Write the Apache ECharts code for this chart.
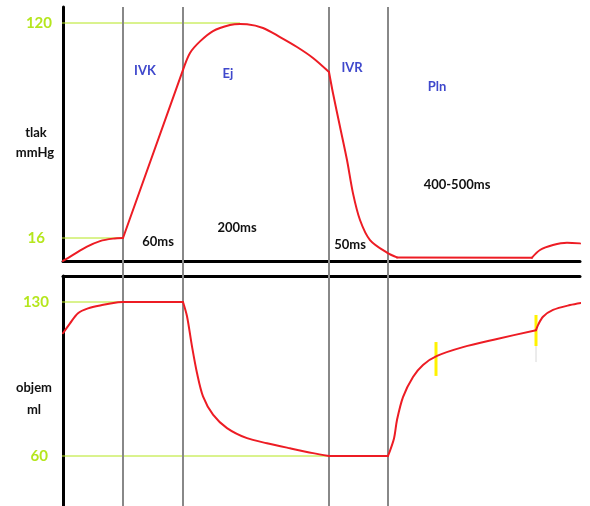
<!DOCTYPE html>
<html>
<head>
<meta charset="utf-8">
<script src="https://cdn.jsdelivr.net/npm/echarts@6/dist/echarts.min.js"></script>
<style>html,body{margin:0;padding:0;background:#fff}#c{width:590px;height:506px}</style>
</head>
<body>
<div id="c"></div>
<script>
// schematic time axis (arbitrary units), phase boundaries
const phaseBounds = [60, 120, 266, 325];
// pressure (mmHg) curve
const pressureT = [0, 10, 24, 37, 50, 60, 120, 127, 137, 150, 167, 177, 184, 200, 217, 234, 250, 266, 270, 277, 284, 290, 297, 307, 324, 334, 469, 477, 490, 504, 517];
const pressureV = [4.9, 7.8, 11.8, 14.5, 15.7, 16, 97.3, 105.5, 111.1, 116.1, 119, 119.5, 119.4, 117.6, 113.2, 108.4, 103.1, 96.3, 86, 69.8, 53.7, 37.6, 24.7, 15, 8.9, 6.6, 6.5, 10.2, 12.6, 13.7, 13.4];
// volume (ml) curve
const volumeT = [0, 7, 15, 25, 39, 55, 60, 120, 124, 129, 134, 140, 150, 164, 184, 204, 227, 250, 266, 325, 331, 334, 340, 350, 360, 374, 400, 434, 473, 475, 480, 490, 507, 520];
const volumeV = [115.8, 120.3, 124.9, 127.1, 128.6, 129.9, 130, 130, 123.5, 109.8, 97.7, 87.1, 78.8, 72.7, 68.1, 65.8, 63.5, 61.3, 60, 60, 68, 76.4, 86.8, 95.9, 101.4, 105.5, 109.5, 113.2, 117.2, 119.5, 123.3, 126.4, 128.6, 129.7];
// tick labels / reference levels
const pressureTicks = [120, 16];
const volumeTicks = [130, 60];
const pressureRefSpan = [[-6, 177], [-12, 60]];
const volumeRefSpan = [[-6, 60], [-8, 266]];
// yellow markers on volume curve
const markerT = [373, 473];
const markerV = [[111.8, 96.4], [124.1, 110]];
const markerGreyV = [110, 102.7];
// phase texts
const phaseNames = ['IVK', 'Ej', 'IVR', 'Pln'];
const durationTexts = ['60ms', '200ms', '50ms', '400-500ms'];
// indices where the curves have corners (segment breaks)
const pressureBreaks = [0, 5, 6, 17, 25, 26, 30];
const volumeBreaks = [0, 6, 7, 18, 19, 28, 33];

const RED = '#ed1c24', LIME = '#b5e61d', GRAY = '#888888', BLUE = '#3f48cc', YEL = '#fff200';
const FONT = 'Lato';
const labelPad = {120: 0, 16: 7, 130: 3, 60: 4};

const chart = echarts.init(document.getElementById('c'), null, {renderer: 'canvas'});

const pMin = 16 - 23 / (215 / 104), pMax = 120 + 16 / (215 / 104);
const vMin = 60 - 50 / 2.2, vMax = 130 + 26 / 2.2;

function richStyle(p) {
  return {color: LIME, fontFamily: FONT, fontWeight: 'bold', fontSize: 15, padding: [0, p, 0, 0]};
}
function yAx(idx, min, max, ticks) {
  return {
    type: 'value', gridIndex: idx, min: min, max: max,
    axisLine: {show: true, onZero: false, lineStyle: {color: '#000', width: 3}},
    axisTick: {show: false},
    splitLine: {show: false},
    axisLabel: {
      show: true, customValues: ticks, margin: 11,
      formatter: v => '{p' + labelPad[v] + '|' + v + '}',
      rich: {p0: richStyle(0), p7: richStyle(7), p3: richStyle(3), p4: richStyle(4)}
    }
  };
}
function xAx(idx, pos, show) {
  return {
    type: 'value', gridIndex: idx, min: 0, max: 517, position: pos,
    axisLine: {show: show, onZero: false, lineStyle: {color: '#000', width: 3}},
    axisTick: {show: false}, axisLabel: {show: false}, splitLine: {show: false}
  };
}
function zip(a, b) { return a.map((t, i) => [t, b[i]]); }

const series = [];
// phase boundary lines (full height)
series.push({
  type: 'line', xAxisIndex: 2, yAxisIndex: 2, data: [], z: 1, silent: true,
  markLine: {
    symbol: 'none', silent: true, animation: false, label: {show: false},
    lineStyle: {color: GRAY, width: 2, type: 'solid'},
    data: phaseBounds.map(b => ({xAxis: b}))
  }
});
// reference lines
pressureTicks.forEach((v, i) => series.push({
  type: 'line', xAxisIndex: 0, yAxisIndex: 0, clip: false, symbol: 'none', z: 2, animation: false,
  lineStyle: {color: LIME, width: 1}, data: [[pressureRefSpan[i][0], v], [pressureRefSpan[i][1], v]]
}));
volumeTicks.forEach((v, i) => series.push({
  type: 'line', xAxisIndex: 1, yAxisIndex: 1, clip: false, symbol: 'none', z: 2, animation: false,
  lineStyle: {color: LIME, width: 1}, data: [[volumeRefSpan[i][0], v], [volumeRefSpan[i][1], v]]
}));
// curves, split at corners
function addCurve(ts, vs, breaks, axis) {
  const pts = zip(ts, vs);
  for (let k = 0; k < breaks.length - 1; k++) {
    const seg = pts.slice(breaks[k], breaks[k + 1] + 1);
    series.push({
      type: 'line', xAxisIndex: axis, yAxisIndex: axis, clip: false, symbol: 'none',
      smooth: seg.length > 2 ? 0.3 : false, z: 5, animation: false,
      lineStyle: {color: RED, width: 2, cap: 'round', join: 'round'}, data: seg
    });
  }
}
addCurve(pressureT, pressureV, pressureBreaks, 0);
addCurve(volumeT, volumeV, volumeBreaks, 1);
// yellow markers
series.push({
  type: 'line', xAxisIndex: 1, yAxisIndex: 1, clip: false, symbol: 'none', z: 3, animation: false,
  lineStyle: {color: '#d8d8d8', width: 1}, data: [[markerT[1], markerGreyV[0]], [markerT[1], markerGreyV[1]]]
});
markerT.forEach((t, i) => series.push({
  type: 'line', xAxisIndex: 1, yAxisIndex: 1, clip: false, symbol: 'none', z: 4, animation: false,
  lineStyle: {color: YEL, width: 3}, data: [[t, markerV[i][0]], [t, markerV[i][1]]]
}));

function txt(x, y, s, color) {
  return {type: 'text', x: x, y: y, style: {text: s, fill: color, font: 'bold 13px ' + FONT, textAlign: 'center', textVerticalAlign: 'middle'}, z: 10};
}

chart.setOption({
  animation: false,
  backgroundColor: '#fff',
  grid: [
    {left: 63, top: 7, width: 517, height: 254},
    {left: 63, top: 276, width: 517, height: 230},
    {left: 63, top: 7, width: 517, height: 499}
  ],
  xAxis: [xAx(0, 'bottom', true), xAx(1, 'top', true), xAx(2, 'bottom', false)],
  yAxis: [yAx(0, pMin, pMax, pressureTicks), yAx(1, vMin, vMax, volumeTicks),
    {type: 'value', gridIndex: 2, min: 0, max: 1, show: false}],
  series: series,
  graphic: [
    txt(145, 71, phaseNames[0], BLUE),
    txt(228, 74, phaseNames[1], BLUE),
    txt(352, 68, phaseNames[2], BLUE),
    txt(437, 87, phaseNames[3], BLUE),
    txt(158, 242, durationTexts[0], '#111'),
    txt(237, 228, durationTexts[1], '#111'),
    txt(350, 245, durationTexts[2], '#111'),
    txt(457, 185, durationTexts[3], '#111'),
    txt(36, 133, 'tlak', '#111'),
    txt(35, 153, 'mmHg', '#111'),
    txt(34, 388, 'objem', '#111'),
    txt(34, 410, 'ml', '#111')
  ]
});
</script>
</body>
</html>
